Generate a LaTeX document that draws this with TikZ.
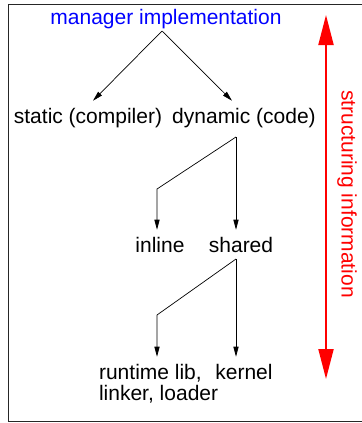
\documentclass[tikz,border=0pt]{standalone}
\usepackage{fontspec}
\setmainfont{Liberation Sans}
\usetikzlibrary{arrows.meta}

\begin{document}
\begin{tikzpicture}[x=0.5pt, y=-0.5pt, font=\fontsize{10.5}{10.5}\selectfont,
    tree/.style={-{Triangle[length=5pt,width=2.6pt]}, line width=0.35pt},
    span/.style={red, line width=1pt, {Triangle[length=15pt,width=7.5pt]}-{Triangle[length=15pt,width=7.5pt]}}]
          \useasboundingbox (0,0) rectangle (362,423);
          \draw [line width=0.5pt, black!85] (8,4) rectangle (374,421);
          \node [blue, anchor=base] (mgr) at (166,25) {manager implementation};
          \node [anchor=base] (static) at (88,123) {static (compiler)};
          \node [anchor=base] (dyn) at (244,123) {dynamic (code)};
          \node [anchor=base] (inline) at (160,252) {inline};
          \node [anchor=base] (shared) at (241,252) {shared};
          \node [anchor=base west, align=left] (rt) at (92,400) {runtime lib,\\linker, loader};
          \node [anchor=base] (kern) at (244,379) {kernel};
          \coordinate (mj) at (162,31);
          \coordinate (dj) at (236,137);
          \coordinate (db) at (157,189);
          \coordinate (sj) at (236,259);
          \coordinate (sb) at (157,315);
          \draw [tree] (mj) -- ([xshift=2.5pt]static.north);
          \draw [tree] (mj) -- ([xshift=-6pt]dyn.north);
          \draw [tree] (dj) -- (db) -- ([xshift=-1.5pt]inline.north);
          \draw [tree] (dj) -- ([xshift=-2.5pt]shared.north);
          \draw [tree] (sj) -- (sb) -- (sb |- rt.north);
          \draw [tree] (sj) -- ([xshift=-4pt]kern.north);
          \draw [span] (326,15) -- (326,379);
          \node [red, rotate=-90] (info) at (347,194) {structuring information};
\end{tikzpicture}
\end{document}
